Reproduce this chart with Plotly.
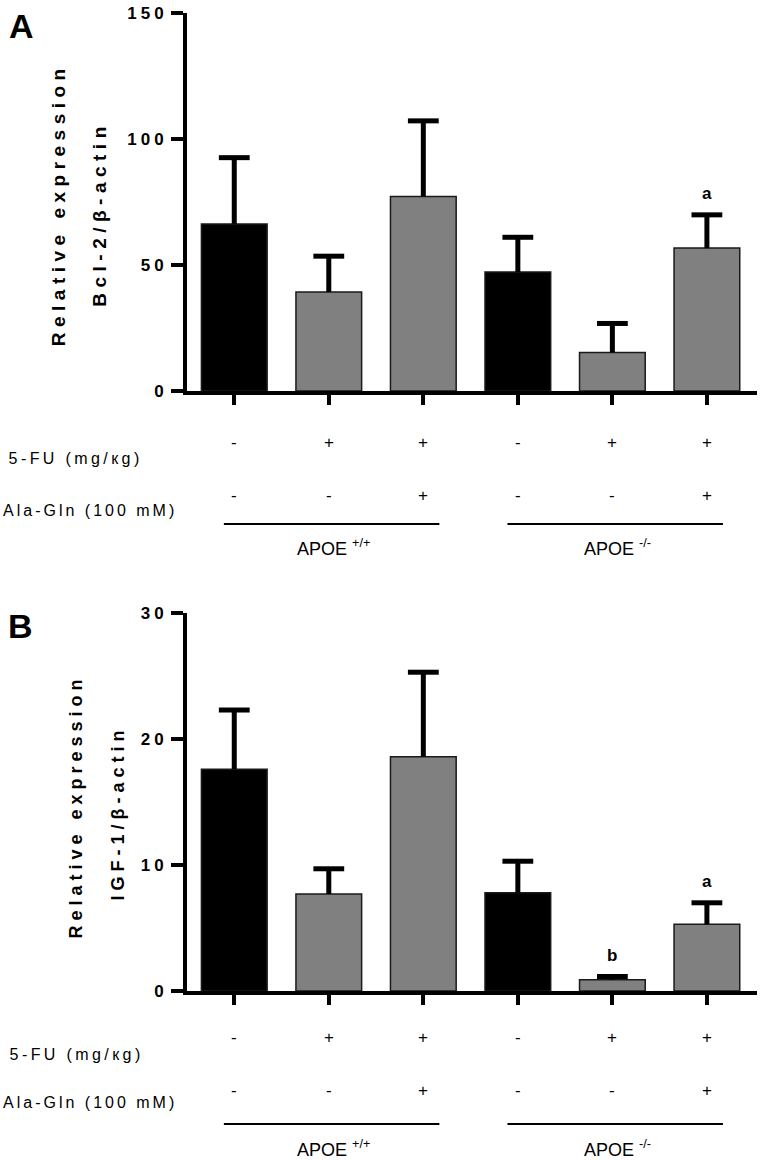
import plotly.graph_objects as go

# ---------------- data ----------------
categories = ["APOE+/+ ctrl", "APOE+/+ 5-FU", "APOE+/+ 5-FU+Ala-Gln",
              "APOE-/- ctrl", "APOE-/- 5-FU", "APOE-/- 5-FU+Ala-Gln"]
bcl2_mean = [66.3, 39.3, 77.2, 47.2, 15.3, 56.7]
bcl2_err = [26.3, 14.2, 30.0, 13.8, 11.5, 13.2]
igf1_mean = [17.6, 7.7, 18.6, 7.8, 0.9, 5.3]
igf1_err = [4.7, 2.0, 6.7, 2.5, 0.25, 1.7]
sig_bcl2 = ["", "", "", "", "", "a"]
sig_igf1 = ["", "", "", "", "b", "a"]
fu_row = ["-", "+", "+", "-", "+", "+"]
ala_row = ["-", "-", "+", "-", "-", "+"]
row_labels = ["5-FU (mg/кg)", "Ala-Gln (100 mM)"]
group_names = ["APOE <sup>+/+</sup>", "APOE <sup>-/-</sup>"]
group_members = [[0, 1, 2], [3, 4, 5]]
bcl2_ticks = [0, 50, 100, 150]
igf1_ticks = [0, 10, 20, 30]

# ---------------- layout helpers ----------------
W, H = 764, 1160
FONT = "Arial, Liberation Sans, sans-serif"


def px(x):
    return x / W


def py(y):
    return 1 - y / H


xs = list(range(len(categories)))
bar_colors = ["#000000" if f == "-" else "#808080" for f in fu_row]
XR = [-0.5, 5.53]
CAP = 0.163

fig = go.Figure()

panels = [
    dict(mean=bcl2_mean, err=bcl2_err, sig=sig_bcl2, ticks=bcl2_ticks,
         xa="x", ya="y", top=13, bottom=391,
         title1="Relative expression", title2="Bcl-2/β-actin",
         t1=(58, 205), t2=(100, 214), tfs=19, tls=5.5,
         letter="A", lpos=(21, 26),
         row1=442, lab1=458, row2=496, lab2=510, line=524, grp=548,
         labx=(75, 90)),
    dict(mean=igf1_mean, err=igf1_err, sig=sig_igf1, ticks=igf1_ticks,
         xa="x2", ya="y2", top=613, bottom=991,
         title1="Relative expression", title2="IGF-1/β-actin",
         t1=(76, 807), t2=(118, 813), tfs=18, tls=5.0,
         letter="B", lpos=(20, 626),
         row1=1037, lab1=1054, row2=1090, lab2=1102, line=1124, grp=1148,
         labx=(76, 90)),
]

annotations = []
shapes = []
spaced = {}

for p in panels:
    fig.add_trace(go.Bar(
        x=xs, y=p["mean"], width=0.695, xaxis=p["xa"], yaxis=p["ya"],
        marker=dict(color=bar_colors, line=dict(color="#1a1a1a", width=1.5)),
        hovertext=categories, showlegend=False))
    ex, ey = [], []
    for i, (m, e) in enumerate(zip(p["mean"], p["err"])):
        ex += [i, i, None, i - CAP, i + CAP, None]
        ey += [m, m + e, None, m + e, m + e, None]
    fig.add_trace(go.Scatter(
        x=ex, y=ey, mode="lines", xaxis=p["xa"], yaxis=p["ya"],
        line=dict(color="black", width=5), showlegend=False, hoverinfo="skip"))
    for i, s in enumerate(p["sig"]):
        if s:
            annotations.append(dict(
                x=i, y=p["mean"][i] + p["err"][i], xref=p["xa"], yref=p["ya"],
                text=s, showarrow=False, yshift=21, yanchor="middle",
                font=dict(family=FONT, size=17, color="black", weight="bold")))

    # y titles (letter-spaced)
    for txt, pos in [(p["title1"], p["t1"]), (p["title2"], p["t2"])]:
        spaced[len(annotations)] = p["tls"]
        annotations.append(dict(
            x=px(pos[0]), y=py(pos[1]), xref="paper", yref="paper",
            text=txt, textangle=-90, showarrow=False,
            xanchor="center", yanchor="middle",
            font=dict(family=FONT, size=p["tfs"], color="black", weight="bold")))

    # panel letter
    annotations.append(dict(
        x=px(p["lpos"][0]), y=py(p["lpos"][1]), xref="paper", yref="paper",
        text=p["letter"], showarrow=False, xanchor="center", yanchor="middle",
        font=dict(family=FONT, size=34, color="black", weight="bold")))

    # treatment rows
    for rowvals, ry in [(fu_row, p["row1"]), (ala_row, p["row2"])]:
        for i, v in enumerate(rowvals):
            annotations.append(dict(
                x=i, y=py(ry), xref=p["xa"], yref="paper", text=v,
                showarrow=False, xanchor="center", yanchor="middle",
                font=dict(family=FONT, size=17, color="black")))
    for lab, ly, lx, sp in [(row_labels[0], p["lab1"], p["labx"][0], 3.4),
                            (row_labels[1], p["lab2"], p["labx"][1], 3.0)]:
        spaced[len(annotations)] = sp
        annotations.append(dict(
            x=px(lx), y=py(ly), xref="paper", yref="paper", text=lab,
            showarrow=False, xanchor="center", yanchor="middle",
            font=dict(family=FONT, size=16, color="black")))

    # group lines + labels
    for gname, members in zip(group_names, group_members):
        shapes.append(dict(
            type="line", xref=p["xa"], yref="paper",
            x0=min(members) - 0.11, x1=max(members) + 0.17,
            y0=py(p["line"]), y1=py(p["line"]),
            line=dict(color="black", width=2)))
        annotations.append(dict(
            x=sum(members) / len(members), y=py(p["grp"]), xref=p["xa"],
            yref="paper", text=gname, showarrow=False, xshift=5,
            xanchor="center", yanchor="middle",
            font=dict(family=FONT, size=18, color="black")))

xdom = [px(187), px(757)]
axis_common = dict(showline=True, linecolor="black", linewidth=4,
                   showgrid=False, zeroline=False, ticks="outside",
                   tickcolor="black", tickwidth=4, automargin=False)

layout = dict(
    template="none",
    width=W, height=H, autosize=False,
    margin=dict(l=0, r=0, t=0, b=0, pad=0, autoexpand=False),
    paper_bgcolor="white", plot_bgcolor="white",
    showlegend=False, bargap=0,
    annotations=annotations, shapes=shapes,
    font=dict(family=FONT, color="black"),
)
for k, p in enumerate(panels):
    sx = "" if k == 0 else str(k + 1)
    layout["xaxis" + sx] = dict(
        axis_common, domain=xdom, range=XR, tickvals=xs,
        showticklabels=False, ticklen=10, anchor=p["ya"])
    layout["yaxis" + sx] = dict(
        axis_common, domain=[py(p["bottom"]), py(p["top"])],
        range=[0, max(p["ticks"])], tickvals=p["ticks"],
        ticklen=12, anchor=p["xa"],
        tickfont=dict(family=FONT, size=17, color="black", weight="bold"))

fig.update_layout(**layout)

css = "html, body { margin: 0; padding: 0; overflow: hidden; }\n"
css += ".ytick text, .y2tick text { letter-spacing: 4px; }\n"
for idx, sp in spaced.items():
    css += '.annotation[data-index="%d"] text { letter-spacing: %spx; }\n' % (idx, sp)
post = ("var s=document.createElement('style');s.textContent=%r;"
        "document.head.appendChild(s);") % css

fig.write_html("out.html", config={"staticPlot": True}, post_script=post)
